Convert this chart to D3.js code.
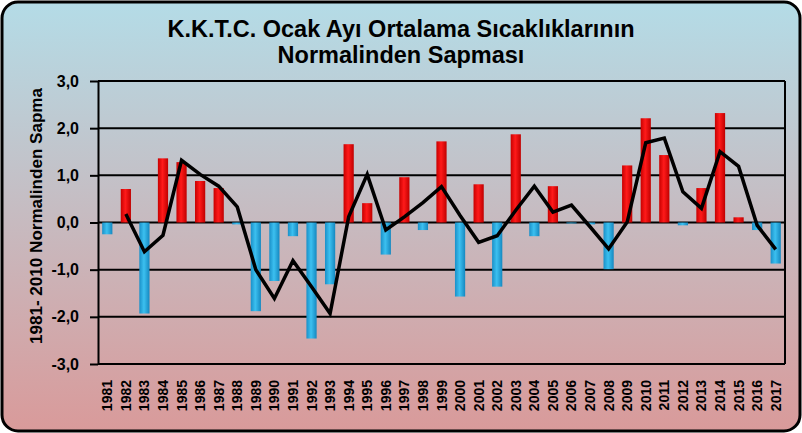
<!DOCTYPE html>
<html><head><meta charset="utf-8">
<script src="https://cdn.jsdelivr.net/npm/d3@7"></script>
<style>html,body{margin:0;padding:0;background:#fff;}svg{display:block;}</style>
</head><body>
<script>
const years = d3.range(1981, 2018).map(String);
const anomalies = [-0.25,0.71,-1.93,1.36,1.28,0.88,0.73,-0.04,-1.88,-1.24,-0.29,-2.46,-1.31,1.66,0.41,-0.68,0.96,-0.16,1.72,-1.57,0.81,-1.36,1.87,-0.29,0.77,-0.02,-0.04,-0.99,1.21,2.21,1.43,-0.06,0.73,2.32,0.11,-0.16,-0.87];
const trendYears = d3.range(1982, 2018).map(String);
const trend = [0.18,-0.62,-0.27,1.32,1.02,0.77,0.33,-1.0,-1.61,-0.81,-1.36,-1.93,0.12,1.02,-0.16,0.12,0.42,0.76,0.15,-0.42,-0.28,0.26,0.77,0.22,0.37,-0.09,-0.56,0.01,1.69,1.79,0.65,0.3,1.5,1.19,-0.06,-0.57];
const yTicks = [-3,-2,-1,0,1,2,3];
const titleLines = ["K.K.T.C. Ocak Ayı Ortalama Sıcaklıklarının","Normalinden Sapması"];
const yTitle = "1981- 2010 Normalinden Sapma";

const W = 802, H = 433;
const FONT = "Liberation Sans, Arial, sans-serif";
const svg = d3.select("body").append("svg").attr("width", W).attr("height", H);
const defs = svg.append("defs");
const bg = defs.append("linearGradient").attr("id","bg").attr("x1",0).attr("y1",0).attr("x2",0).attr("y2",1);
bg.append("stop").attr("offset","0%").attr("stop-color","#b4dce7");
bg.append("stop").attr("offset","100%").attr("stop-color","#d99a9a");
const gr = defs.append("linearGradient").attr("id","red").attr("x1",0).attr("y1",0).attr("x2",1).attr("y2",0);
gr.append("stop").attr("offset","0%").attr("stop-color","#c80000");
gr.append("stop").attr("offset","45%").attr("stop-color","#ff1a1a");
gr.append("stop").attr("offset","100%").attr("stop-color","#c00000");
const gb = defs.append("linearGradient").attr("id","blue").attr("x1",0).attr("y1",0).attr("x2",1).attr("y2",0);
gb.append("stop").attr("offset","0%").attr("stop-color","#1a90c8");
gb.append("stop").attr("offset","45%").attr("stop-color","#3cc0f0");
gb.append("stop").attr("offset","100%").attr("stop-color","#1588c0");

svg.append("rect").attr("x",2).attr("y",2).attr("width",W-4).attr("height",H-4)
  .attr("rx",16).attr("ry",16).attr("fill","url(#bg)").attr("stroke","#000").attr("stroke-width",3);

const L = 98, R = 785, T = 81, B = 364;
const x = d3.scaleBand().domain(years).range([L, R]).paddingInner(0.45).paddingOuter(0.225);
const y = d3.scaleLinear().domain([-3, 3]).range([B, T]);

// gridlines
svg.append("g").selectAll("line").data(yTicks).join("line")
  .attr("x1", L).attr("x2", R).attr("y1", d => y(d)).attr("y2", d => y(d))
  .attr("stroke", "#000").attr("stroke-width", 2);
svg.append("line").attr("x1",R).attr("x2",R).attr("y1",T).attr("y2",B).attr("stroke","#000").attr("stroke-width",2);

// y axis
const yAxis = d3.axisLeft(y).tickValues(yTicks).tickSize(8).tickSizeOuter(0)
  .tickFormat(d => d3.format(".1f")(d).replace(".", ",").replace("−","-"));
const ya = svg.append("g").attr("transform", `translate(${L},0)`).call(yAxis);
ya.select(".domain").attr("stroke","#000").attr("stroke-width",2);
ya.selectAll(".tick line").attr("stroke","#000").attr("stroke-width",2);
ya.selectAll(".tick text").attr("x",-19).attr("font-family",FONT)
  .attr("font-weight","bold").attr("font-size",16).attr("fill","#000");

// bars
svg.append("g").selectAll("rect").data(anomalies).join("rect")
  .attr("x", (d, i) => x(years[i]))
  .attr("width", x.bandwidth())
  .attr("y", d => y(Math.max(0, d)))
  .attr("height", d => Math.abs(y(d) - y(0)))
  .attr("fill", d => d >= 0 ? "url(#red)" : "url(#blue)");

// trend line
const line = d3.line().x((d, i) => x(trendYears[i]) + x.bandwidth() / 2).y(d => y(d));
svg.append("path").datum(trend).attr("d", line).attr("fill", "none")
  .attr("stroke", "#000").attr("stroke-width", 3.5).attr("stroke-linejoin", "miter");

// x labels
svg.append("g").selectAll("text").data(years).join("text")
  .attr("transform", d => `translate(${x(d) + x.bandwidth() / 2 + 5},${380}) rotate(-90)`)
  .attr("text-anchor", "end")
  .attr("font-family", FONT).attr("font-weight", "bold")
  .attr("font-size", 14).attr("fill", "#000").text(d => d);

// y title
svg.append("text").attr("transform", `translate(42,${216}) rotate(-90)`)
  .attr("text-anchor", "middle").attr("font-family", FONT)
  .attr("font-weight", "bold").attr("font-size", 16).attr("fill", "#000")
  .attr("textLength", 256).attr("lengthAdjust", "spacingAndGlyphs").text(yTitle);

// title
svg.append("g").selectAll("text").data(titleLines).join("text")
  .attr("x", 401).attr("y", (d, i) => 37 + i * 26)
  .attr("text-anchor", "middle").attr("font-family", FONT)
  .attr("font-weight", "bold").attr("font-size", 23.5).attr("fill", "#000").text(d => d);
</script>
</body></html>
